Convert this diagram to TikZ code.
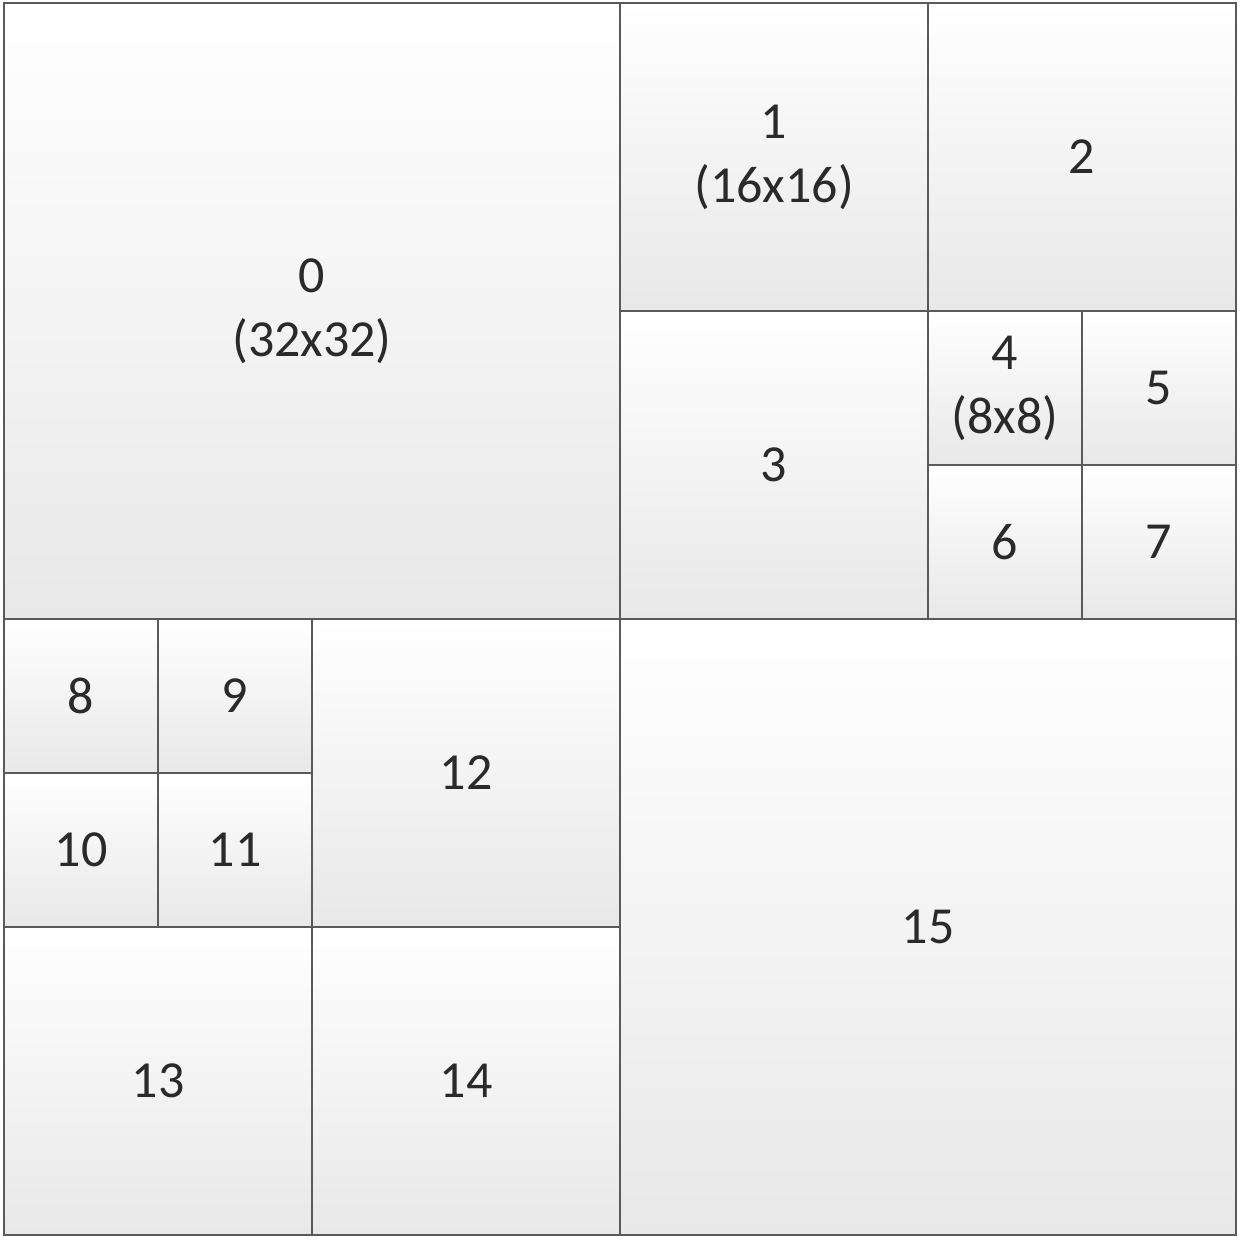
\documentclass[tikz,border=0pt]{standalone}
\usepackage{fontspec}
\setmainfont{Carlito}
\definecolor{edge}{HTML}{5A5A5A}
\definecolor{txt}{HTML}{2A2A2A}
\begin{document}
\begin{tikzpicture}[x=1pt,y=-1pt,
  cell/.style={draw=edge,line width=2.6pt,top color=white,bottom color=black!9,
    inner sep=0pt,outer sep=0pt,align=center,text=txt,
    font=\fontsize{52}{64}\selectfont},
  big/.style={cell,minimum width=616pt,minimum height=616pt},
  mid/.style={cell,minimum width=308pt,minimum height=308pt},
  small/.style={cell,minimum width=154pt,minimum height=154pt}]
\useasboundingbox (0,0) rectangle (1246,1244);
\fill[white] (0,0) rectangle (1246,1244);
% top-left
\node[big] (b0) at (312,311) {0\\(32x32)};
% top-right
\node[mid] (b1) at (774,157) {1\\(16x16)};
\node[mid] (b2) at (1082,157) {2};
\node[mid] (b3) at (774,465) {3};
\node[small] (b4) at (1005,388) {4\\(8x8)};
\node[small] (b5) at (1159,388) {5};
\node[small] (b6) at (1005,542) {6};
\node[small] (b7) at (1159,542) {7};
% bottom-left
\node[small] (b8) at (81,696) {8};
\node[small] (b9) at (235,696) {9};
\node[small] (b10) at (81,850) {10};
\node[small] (b11) at (235,850) {11};
\node[mid] (b12) at (466,773) {12};
\node[mid] (b13) at (158,1081) {13};
\node[mid] (b14) at (466,1081) {14};
% bottom-right
\node[big] (b15) at (928,927) {15};
\end{tikzpicture}
\end{document}
